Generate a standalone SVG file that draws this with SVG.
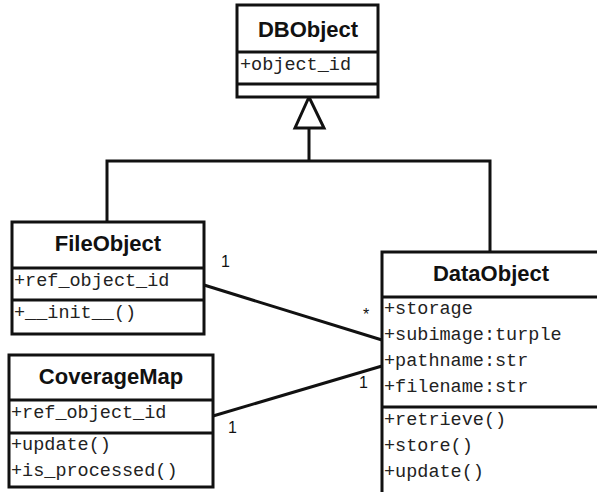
<svg xmlns="http://www.w3.org/2000/svg" width="597" height="492" viewBox="0 0 597 492">
<style>
.box{fill:#fff;stroke:#111;stroke-width:3}
.sep{stroke:#111;stroke-width:3}
.title{font-family:"Liberation Sans",Arial,sans-serif;font-weight:bold;font-size:22px;fill:#111;text-anchor:middle}
.mono{font-family:"Liberation Mono","Courier New",monospace;font-size:18.5px;fill:#222}
.mult{font-family:"Liberation Sans",Arial,sans-serif;font-size:16px;fill:#111}
.conn{fill:none;stroke:#111;stroke-width:3}
</style>
<rect width="597" height="492" fill="#fff"/>
<g id="connectors">
<path class="conn" d="M309,128 V161 M107,222 V161 H490 V252"/>
<polygon class="conn" fill="#fff" points="309,97 295,128 324,128" style="fill:#fff"/>
<line class="conn" x1="204" y1="285" x2="382" y2="340"/>
<line class="conn" x1="213" y1="416" x2="382" y2="366"/>
<text class="mult" x="221" y="267">1</text>
<text class="mult" x="363" y="320">*</text>
<text class="mult" x="359" y="388">1</text>
<text class="mult" x="228" y="433">1</text>
</g>
<g id="DBObject">
<rect class="box" x="237" y="5" width="141" height="92"/>
<line class="sep" x1="237" y1="52" x2="378" y2="52"/>
<line class="sep" x1="237" y1="84" x2="378" y2="84"/>
<text class="title" x="308" y="37">DBObject</text>
<text class="mono" x="240" y="70">+object_id</text>
</g>
<g id="FileObject">
<rect class="box" x="12" y="222" width="192" height="112"/>
<line class="sep" x1="12" y1="268" x2="204" y2="268"/>
<line class="sep" x1="12" y1="300" x2="204" y2="300"/>
<text class="title" x="108" y="251">FileObject</text>
<text class="mono" x="14" y="286">+ref_object_id</text>
<text class="mono" x="14" y="318">+__init__()</text>
</g>
<g id="CoverageMap">
<rect class="box" x="9" y="355" width="204" height="132"/>
<line class="sep" x1="9" y1="400" x2="213" y2="400"/>
<line class="sep" x1="9" y1="433" x2="213" y2="433"/>
<text class="title" x="111" y="384">CoverageMap</text>
<text class="mono" x="11" y="418">+ref_object_id</text>
<text class="mono" x="11" y="450">+update()</text>
<text class="mono" x="11" y="476">+is_processed()</text>
</g>
<g id="DataObject">
<rect class="box" x="382" y="252" width="222" height="250"/>
<line class="sep" x1="382" y1="297" x2="604" y2="297"/>
<line class="sep" x1="382" y1="407" x2="604" y2="407"/>
<text class="title" x="491" y="281">DataObject</text>
<text class="mono" x="384" y="314">+storage</text>
<text class="mono" x="384" y="340">+subimage:turple</text>
<text class="mono" x="384" y="366">+pathname:str</text>
<text class="mono" x="384" y="392">+filename:str</text>
<text class="mono" x="384" y="425">+retrieve()</text>
<text class="mono" x="384" y="451">+store()</text>
<text class="mono" x="384" y="477">+update()</text>
</g>
</svg>
